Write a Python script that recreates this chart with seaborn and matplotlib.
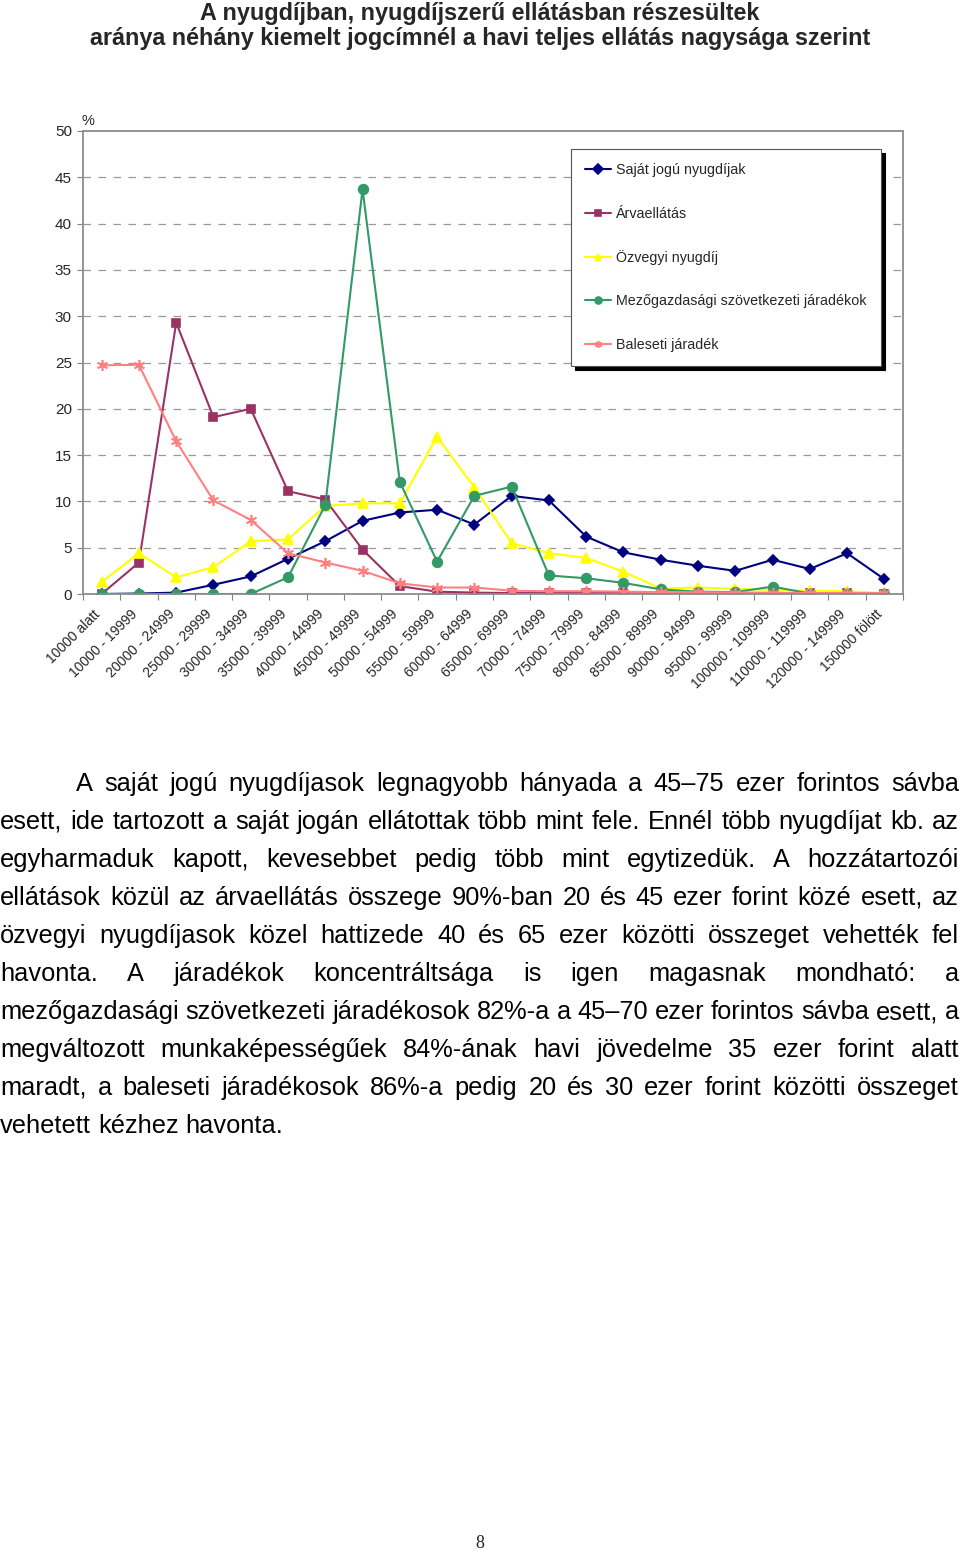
import numpy as np
import pandas as pd
import seaborn as sns
import matplotlib.pyplot as plt
from matplotlib.transforms import ScaledTranslation

# Income bands (Ft / month)
categories = ['10000 alatt', '10000 - 19999', '20000 - 24999', '25000 - 29999',
              '30000 - 34999', '35000 - 39999', '40000 - 44999', '45000 - 49999',
              '50000 - 54999', '55000 - 59999', '60000 - 64999', '65000 - 69999',
              '70000 - 74999', '75000 - 79999', '80000 - 84999', '85000 - 89999',
              '90000 - 94999', '95000 - 99999', '100000 - 109999', '110000 - 119999',
              '120000 - 149999', '150000 fölött']

# Share of recipients (%) per band
sajat_jogu = [0.0, 0.05, 0.15, 1.0, 1.9, 3.8, 5.7, 7.9, 8.8, 9.1, 7.5, 10.6,
              10.1, 6.2, 4.5, 3.7, 3.05, 2.5, 3.7, 2.7, 4.4, 1.6]
arvaellatas = [0.0, 3.4, 29.3, 19.1, 20.0, 11.1, 10.2, 4.8, 0.85, 0.25, 0.15, 0.1,
               0.1, 0.1, 0.1, 0.1, 0.1, 0.1, 0.1, 0.1, 0.1, 0.05]
ozvegyi = [1.3, 4.4, 1.8, 2.9, 5.7, 5.9, 9.5, 9.8, 9.8, 17.0, 11.5, 5.5,
           4.4, 3.9, 2.4, 0.6, 0.7, 0.55, 0.45, 0.35, 0.3, 0.1]
mezogazdasagi = [0.0, 0.0, 0.0, 0.0, 0.0, 1.8, 9.6, 43.7, 12.1, 3.5, 10.6, 11.6,
                 2.0, 1.7, 1.2, 0.5, 0.25, 0.2, 0.8, 0.05, 0.05, 0.05]
baleseti = [24.7, 24.75, 16.5, 10.1, 8.0, 4.4, 3.4, 2.5, 1.15, 0.7, 0.7, 0.35,
            0.3, 0.3, 0.25, 0.2, 0.2, 0.15, 0.15, 0.1, 0.1, 0.1]

series_names = ['Saját jogú nyugdíjak', 'Árvaellátás', 'Özvegyi nyugdíj',
                'Mezőgazdasági szövetkezeti járadékok', 'Baleseti járadék']
series_values = [sajat_jogu, arvaellatas, ozvegyi, mezogazdasagi, baleseti]

title = ('A nyugdíjban, nyugdíjszerű ellátásban részesültek\n'
         'aránya néhány kiemelt jogcímnél a havi teljes ellátás nagysága szerint')

paragraph = [
    'A saját jogú nyugdíjasok legnagyobb hányada a 45–75 ezer forintos sávba',
    'esett, ide tartozott a saját jogán ellátottak több mint fele. Ennél több nyugdíjat kb. az',
    'egyharmaduk kapott, kevesebbet pedig több mint egytizedük. A hozzátartozói',
    'ellátások közül az árvaellátás összege 90%-ban 20 és 45 ezer forint közé esett, az',
    'özvegyi nyugdíjasok közel hattizede 40 és 65 ezer közötti összeget vehették fel',
    'havonta. A járadékok koncentráltsága is igen magasnak mondható: a',
    'mezőgazdasági szövetkezeti járadékosok 82%-a a 45–70 ezer forintos sávba esett, a',
    'megváltozott munkaképességűek 84%-ának havi jövedelme 35 ezer forint alatt',
    'maradt, a baleseti járadékosok 86%-a pedig 20 és 30 ezer forint közötti összeget',
    'vehetett kézhez havonta.',
]

# long-form table for seaborn
rows = []
for name, vals in zip(series_names, series_values):
    for i, v in enumerate(vals):
        rows.append({'pos': i, 'value': v, 'series': name})
df = pd.DataFrame(rows)

sns.set_theme(style='white')
plt.rcParams['font.family'] = ['Liberation Sans', 'DejaVu Sans']

W, H = 960, 1550
fig = plt.figure(figsize=(W / 100, H / 100), dpi=100)
ax = fig.add_axes([83 / W, 1 - 594 / H, 820 / W, 463 / H])

palette = {'Saját jogú nyugdíjak': '#000080',
           'Árvaellátás': '#993366',
           'Özvegyi nyugdíj': '#FFFF00',
           'Mezőgazdasági szövetkezeti járadékok': '#339966',
           'Baleseti járadék': '#FF8080'}
markers = {'Saját jogú nyugdíjak': 'D',
           'Árvaellátás': 's',
           'Özvegyi nyugdíj': '^',
           'Mezőgazdasági szövetkezeti járadékok': 'o',
           'Baleseti járadék': (6, 2, 0)}
sizes_mk = {'Saját jogú nyugdíjak': 5, 'Árvaellátás': 6, 'Özvegyi nyugdíj': 7,
            'Mezőgazdasági szövetkezeti járadékok': 7, 'Baleseti járadék': 8}

for name in series_names:
    sub = df[df['series'] == name]
    sns.lineplot(data=sub, x='pos', y='value', color=palette[name],
                 marker=markers[name], markersize=sizes_mk[name],
                 markeredgecolor=palette[name], markeredgewidth=1.2,
                 linewidth=1.5, label=name, ax=ax, sort=False)

ax.set_xlim(-0.5, len(categories) - 0.5)
ax.set_ylim(0, 50)
ax.set_xlabel('')
ax.set_ylabel('')

ax.set_yticks(np.arange(0, 51, 5))
ax.tick_params(axis='y', which='major', length=4, width=0.8, color='#808080',
               labelsize=11, pad=4, left=True)
for yv in range(5, 50, 5):
    ax.axhline(yv, color='#999999', linewidth=0.9, linestyle=(0, (6, 6)), zorder=0)

ax.set_xticks(np.arange(len(categories)))
ax.set_xticklabels(categories, rotation=45, ha='right', va='center',
                   rotation_mode='anchor', fontsize=10)
ax.tick_params(axis='x', which='major', length=0, pad=13)
shift = ScaledTranslation(-4 / 100, 0, fig.dpi_scale_trans)
for lab in ax.get_xticklabels():
    lab.set_transform(lab.get_transform() + shift)
ax.set_xticks(np.arange(-0.5, len(categories), 1), minor=True)
ax.tick_params(axis='x', which='minor', length=4, width=0.8, color='#808080',
               bottom=True)

for side in ['left', 'top', 'right', 'bottom']:
    ax.spines[side].set_visible(True)
    ax.spines[side].set_color('#8c8c8c')
    ax.spines[side].set_linewidth(1.3)

fig.text(88 / W, 1 - 121 / H, '%', fontsize=10.5, ha='center', va='center')

leg = ax.legend(loc='upper left', bbox_to_anchor=(571 / W, 1 - 149 / H),
                bbox_transform=fig.transFigure, fontsize=10.3, frameon=True,
                fancybox=False, edgecolor='#555555', framealpha=1,
                shadow={'color': 'black', 'alpha': 1, 'ox': 3, 'oy': -3},
                labelspacing=2.05, handlelength=1.8, handletextpad=0.35,
                borderpad=1.0, borderaxespad=0)
leg.get_frame().set_linewidth(0.8)
for h in leg.legend_handles:
    h.set_markersize(5)

fig.text(0.5, 1 - 2 / H, title, ha='center', va='top', fontsize=16.8,
         fontweight='bold', linespacing=1.1)

# justified paragraph under the chart
fs = 18.3
renderer = fig.canvas.get_renderer()
x_right = 959
base0 = 791
step = 38
sp_ab = fig.text(0, 0, 'a a', fontsize=fs)
sp_a = fig.text(0, 0, 'a', fontsize=fs)
space = sp_ab.get_window_extent(renderer).width - 2 * sp_a.get_window_extent(renderer).width
sp_ab.remove()
sp_a.remove()
for li, line in enumerate(paragraph):
    words = line.split(' ')
    x_left = 76 if li == 0 else 0
    texts = [fig.text(0, 0, w, fontsize=fs, ha='left', va='baseline',
                      color='black') for w in words]
    widths = [t.get_window_extent(renderer).width for t in texts]
    last = li == len(paragraph) - 1
    if last:
        gap = space
    else:
        gap = (x_right - x_left - sum(widths)) / (len(words) - 1)
    x = x_left
    y = 1 - (base0 + li * step) / H
    for t, wd in zip(texts, widths):
        t.set_position((x / W, y))
        x += wd + gap

fig.text(0.5, 1 - 1543 / H, '8', ha='center', va='center', fontsize=13,
         family='Liberation Serif')

fig.savefig('out.png', dpi=100, facecolor='white')
